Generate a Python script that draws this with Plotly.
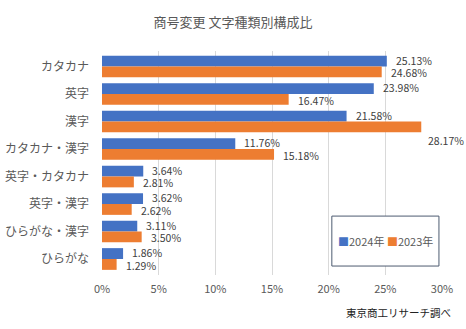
import plotly.graph_objects as go

categories = ["カタカナ", "英字", "漢字", "カタカナ・漢字", "英字・カタカナ", "英字・漢字", "ひらがな・漢字", "ひらがな"]
values_2024 = [25.13, 23.98, 21.58, 11.76, 3.64, 3.62, 3.11, 1.86]
values_2023 = [24.68, 16.47, 28.17, 15.18, 2.81, 2.62, 3.50, 1.29]
series_names = ["2024年", "2023年"]
x_ticks = [0, 5, 10, 15, 20, 25, 30]
x_tick_labels = ["0%", "5%", "10%", "15%", "20%", "25%", "30%"]

BLUE = "#4472C4"
ORANGE = "#ED7D31"
FONT = "Noto Sans CJK JP"

fig = go.Figure()
fig.add_trace(go.Bar(y=categories, x=values_2024, orientation="h", name=series_names[0],
                     marker=dict(color=BLUE, line=dict(width=0)), showlegend=False))
fig.add_trace(go.Bar(y=categories, x=values_2023, orientation="h", name=series_names[1],
                     marker=dict(color=ORANGE, line=dict(width=0)), showlegend=False))

annotations = []
for cat, v in zip(categories, values_2024):
    annotations.append(dict(x=v, y=cat, xref="x", yref="y", text=f"{v:.2f}%", showarrow=False,
                            xanchor="left", yanchor="middle", xshift=7, yshift=6.5,
                            font=dict(family=FONT, size=10.5, color="#404040")))
for cat, v in zip(categories, values_2023):
    big = v > 27
    annotations.append(dict(x=v, y=cat, xref="x", yref="y", text=f"{v:.2f}%", showarrow=False,
                            xanchor="left", yanchor="middle", xshift=5 if big else 7,
                            yshift=-19 if big else -6,
                            font=dict(family=FONT, size=10.5, color="#404040")))

# legend (drawn as text inside a box)
annotations.append(dict(x=0.834, y=0.152, xref="paper", yref="paper", showarrow=False,
                        xanchor="center", yanchor="middle",
                        text=f"<span style='color:{BLUE}'>■</span>{series_names[0]} "
                             f"<span style='color:{ORANGE}'>■</span>{series_names[1]}",
                        font=dict(family=FONT, size=11, color="#595959")))
# source
pw, ph = 466 - 102 - 24, 329 - 51 - 54
annotations.append(dict(x=(453 - 102) / pw, y=(275 - 312) / ph, xref="paper", yref="paper", showarrow=False,
                        xanchor="right", yanchor="middle", text="東京商工リサーチ調べ",
                        font=dict(family=FONT, size=10.5, color="#222222")))

fig.update_layout(
    width=466, height=329,
    margin=dict(l=102, r=24, t=51, b=54, autoexpand=False),
    paper_bgcolor="white", plot_bgcolor="white",
    barmode="group", bargap=0.21, bargroupgap=0,
    title=dict(text="商号変更 文字種類別構成比", x=0.5, xanchor="center", y=1 - 22 / 329, yanchor="middle",
               font=dict(family=FONT, size=13, color="#595959")),
    font=dict(family=FONT, color="#595959"),
    xaxis=dict(range=[0, 30], tickvals=x_ticks, ticktext=x_tick_labels, showgrid=True,
               gridcolor="#D9D9D9", gridwidth=1, zeroline=False, showline=False, automargin=False,
               tickfont=dict(family=FONT, size=11, color="#595959"), ticklabelstandoff=6, fixedrange=True),
    yaxis=dict(autorange="reversed", showgrid=False, zeroline=False, showline=False, automargin=False,
               tickfont=dict(family=FONT, size=12, color="#595959"), ticklabelstandoff=12),
    shapes=[dict(type="rect", xref="paper", yref="paper", x0=0.676, x1=0.991, y0=0.040, y1=0.263,
                 line=dict(color="#4D5B70", width=1), fillcolor="white", layer="above")],
    annotations=annotations,
    showlegend=False,
)

fig.write_html("out.html")
